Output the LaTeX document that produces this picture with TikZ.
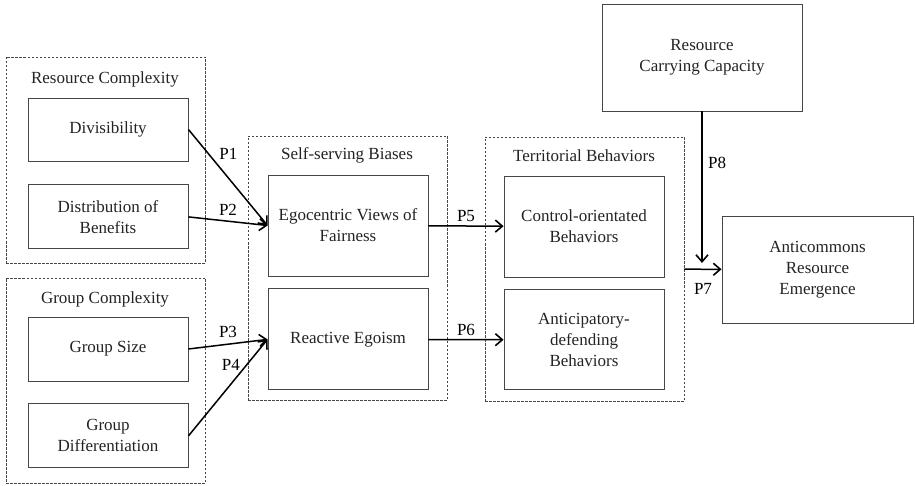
\documentclass[tikz,border=0pt]{standalone}
\usepackage{fontspec}
\newfontfamily\figfont{Liberation Serif}
\usetikzlibrary{positioning,arrows.meta}
\definecolor{boxgray}{RGB}{70,70,70}
\definecolor{txtgray}{RGB}{35,35,35}

\begin{document}
\begin{tikzpicture}
[x=1pt,y=-1pt,font=\figfont\fontsize{17}{21}\selectfont,text=txtgray,
 group/.style={draw=boxgray,line width=0.8pt,dash pattern=on 2.5pt off 1.5pt,minimum width=199pt},
 var/.style={draw=boxgray,line width=0.9pt,align=center,minimum width=160pt},
 link/.style={-{Straight Barb[length=7pt,width=12pt,line width=1.6pt]},line width=1.5pt,black}]
\useasboundingbox (0,0) rectangle (915,486);
% dashed groups
\node[group,minimum height=206pt](rc) at (105.5,160){};
\node[group,minimum height=205pt](gc) at (105.5,380.5){};
\node[group,minimum height=264pt](ssb) at (347.5,268){};
\node[group,minimum height=264pt](tb) at (584.5,269){};
\node(rct) at (105,79){Resource Complexity};
\node(gct) at (105,299){Group Complexity};
\node(ssbt) at (347,155){Self-serving Biases};
\node(tbt) at (584,156){Territorial Behaviors};
% variables
\node[var,minimum height=63pt](div) at (108,129.5){Divisibility};
\node[var,minimum height=64pt,below=23pt of div](dist){Distribution of\\Benefits};
\node[var,minimum height=64pt](gsize) at (108,349){Group Size};
\node[var,minimum height=64pt,below=22pt of gsize](gdiff){Group\\Differentiation};
\node[var,minimum height=101pt](ego) at (348,225.5){Egocentric Views of\\Fairness};
\node[var,minimum height=101pt,below=12pt of ego](react){Reactive Egoism};
\node[var,minimum height=101pt](ctrl) at (584,226.5){Control-orientated\\Behaviors};
\node[var,minimum height=100pt,below=12pt of ctrl](antic){Anticipatory-\\defending\\Behaviors};
\node[var,minimum width=200pt,minimum height=107pt](rcc) at (702,57.5){Resource\\Carrying Capacity};
\node[var,minimum width=191pt,minimum height=107pt](are) at (817.5,269.5){Anticommons\\Resource\\Emergence};
\coordinate(p8) at (702,263);
% propositions
\path (div.east) edge[link] node[pos=0.25,right=7pt]{P1} (ego.west);
\path (dist.east) edge[link] node[pos=0.5,above=2pt]{P2} (ego.west);
\path (gsize.east) edge[link] node[pos=0.5,above=2pt]{P3} (react.west);
\path (gdiff.east) edge[link] node[pos=0.74,left=3pt]{P4} (react.west);
\path (ego) edge[link] node[above]{P5} (ctrl);
\path (react) edge[link] node[above]{P6} (antic);
\path (tb) edge[link] node[below=10pt]{P7} (are);
\path (rcc) edge[link] node[pos=0.34,right=2pt]{P8} (p8);
\end{tikzpicture}
\end{document}
